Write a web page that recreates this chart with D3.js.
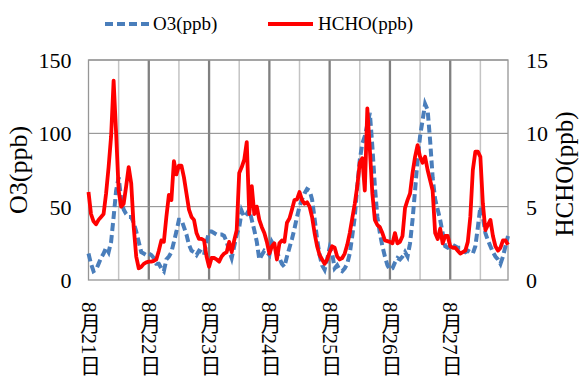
<!DOCTYPE html>
<meta charset="utf-8">
<title>O3 / HCHO</title>
<style>
    body { margin: 0; background: #fff; }
    .grid { stroke: #868686; stroke-width: 1; }
    .minor { stroke: #c4c4c4; stroke-width: 1.5; }
    .major { stroke: #808080; stroke-width: 2.3; }
    .vlabel { writing-mode: vertical-rl; }
</style>
<body></body>
<script src="https://d3js.org/d3.v7.min.js"></script>
<script>
    const width = 579, height = 380;
    const serif = "'Liberation Serif', 'DejaVu Serif', 'Noto Sans CJK JP', serif";

    // hourly values, 8/21 00:00 .. 8/27 23:00
    const o3 = [
        18, 11, 6, 7, 11, 15, 18, 22, 19, 26, 43, 61, 70, 55, 48, 45, 43, 43, 39, 33, 26, 19, 18, 17,
        18, 17, 15, 11, 11, 8, 6, 14, 16, 19, 26, 33, 41, 41, 36, 31, 24, 20, 19, 17, 20, 19, 17, 26,
        33, 33, 32, 31, 31, 31, 30, 26, 20, 15, 23, 31, 36, 47, 43, 45, 48, 41, 34, 26, 14, 17, 20, 19,
        17, 26, 23, 19, 15, 11, 9, 16, 22, 28, 35, 43, 50, 55, 59, 62, 61, 55, 42, 28, 17, 10, 7, 14,
        22, 18, 8, 10, 7, 6, 8, 11, 18, 30, 43, 64, 82, 93, 98, 106, 114, 91, 64, 43, 32, 23, 16, 10,
        7, 8, 12, 15, 14, 16, 19, 16, 25, 41, 61, 82, 98, 109, 120, 116, 95, 70, 55, 48, 41, 32, 23, 22,
        23, 24, 23, 22, 22, 20, 19, 20, 19, 18, 23, 36, 50, 43, 32, 27, 23, 19, 16, 14, 11, 16, 23, 30
    ];
    const hcho = [
        6.0, 4.5, 4.0, 3.8, 4.1, 4.3, 4.5, 5.9, 7.7, 9.8, 13.6, 10.0, 6.1, 5.0, 5.2, 6.4, 7.7, 6.6, 3.6, 1.6, 0.8, 0.9, 1.1, 1.2,
        1.25, 1.25, 1.3, 1.4, 2.0, 2.7, 2.6, 4.3, 5.8, 5.45, 8.1, 7.2, 7.8, 7.8, 7.0, 5.9, 4.8, 4.3, 4.1, 3.2, 2.8, 2.8, 2.7, 1.6,
        0.9, 1.5, 1.5, 1.4, 1.25, 1.6, 1.8, 1.9, 2.6, 1.9, 2.7, 3.4, 7.3, 7.7, 8.2, 9.4, 4.5, 6.4, 4.5, 5.0, 4.1, 3.6, 3.2, 2.6,
        1.8, 2.3, 2.5, 1.4, 2.5, 2.7, 2.6, 3.9, 4.2, 4.8, 5.45, 5.5, 6.0, 5.45, 5.2, 5.3, 5.0, 4.3, 3.2, 2.3, 1.7, 1.4, 1.1, 1.4,
        1.9, 2.3, 2.2, 1.6, 1.4, 1.5, 1.8, 2.4, 3.2, 4.2, 5.2, 6.4, 8.0, 8.3, 6.1, 11.7, 8.9, 5.9, 4.1, 3.75, 3.6, 3.2, 2.7, 2.65,
        2.6, 2.5, 3.2, 2.5, 2.6, 3.0, 4.9, 5.45, 5.9, 7.3, 8.4, 9.2, 8.4, 8.0, 8.4, 7.5, 6.8, 6.1, 3.2, 2.8, 3.5, 2.5, 3.0, 3.0,
        2.3, 2.2, 2.2, 2.0, 1.8, 1.9, 2.0, 2.6, 4.3, 7.5, 8.75, 8.75, 8.4, 5.2, 3.4, 3.75, 4.1, 3.0, 2.3, 2.0, 2.2, 2.7, 2.7, 2.4
    ];
    const dayLabels = ["8月21日", "8月22日", "8月23日", "8月24日", "8月25日", "8月26日", "8月27日"];
    const o3Ticks = [0, 50, 100, 150];
    const hchoTicks = [0, 5, 10, 15];
    const seriesNames = ["O3(ppb)", "HCHO(ppb)"];

    const margin = {top: 60, right: 71, bottom: 100, left: 88.5};
    const x = d3.scaleLinear().domain([0, o3.length - 1]).range([margin.left, width - margin.right]);
    const y = d3.scaleLinear().domain([0, 150]).range([height - margin.bottom, margin.top]);
    const y2 = d3.scaleLinear().domain([0, 15]).range([height - margin.bottom, margin.top]);

    const svg = d3.select("body").append("svg")
        .attr("width", width)
        .attr("height", height)
        .style("font-family", serif);

    // vertical lines: light at noon, dark at midnight
    const noons = d3.range(12, o3.length, 24);
    const days = d3.range(24, o3.length, 24);
    svg.append("g").selectAll("line").data(noons).join("line")
        .attr("class", "minor")
        .attr("x1", d => x(d)).attr("x2", d => x(d))
        .attr("y1", y(150)).attr("y2", y(0));
    svg.append("g").selectAll("line").data(days).join("line")
        .attr("class", "major")
        .attr("x1", d => x(d)).attr("x2", d => x(d))
        .attr("y1", y(150)).attr("y2", y(0));

    svg.append("g").selectAll("line").data(o3Ticks.slice(1)).join("line")
        .attr("class", "grid")
        .attr("x1", x(0)).attr("x2", x(o3.length - 1))
        .attr("y1", d => y(d)).attr("y2", d => y(d));

    svg.append("rect")
        .attr("x", x(0)).attr("y", y(150))
        .attr("width", x(o3.length - 1) - x(0)).attr("height", y(0) - y(150))
        .attr("fill", "none").attr("stroke", "#969696").attr("stroke-width", 1.3);

    const leftAxis = svg.append("g")
        .attr("transform", `translate(${x(0)},0)`)
        .call(d3.axisLeft(y).tickValues(o3Ticks).tickSize(0).tickPadding(17));
    leftAxis.select(".domain").remove();
    leftAxis.attr("font-family", null).attr("font-size", 22);
    leftAxis.selectAll("text").attr("dy", "0.34em").attr("fill", "#000");

    const rightAxis = svg.append("g")
        .attr("transform", `translate(${x(o3.length - 1)},0)`)
        .call(d3.axisRight(y2).tickValues(hchoTicks).tickSize(0).tickPadding(18));
    rightAxis.select(".domain").remove();
    rightAxis.attr("font-family", null).attr("font-size", 22);
    rightAxis.selectAll("text").attr("dy", "0.34em").attr("fill", "#000");

    svg.append("g").selectAll("text").data(dayLabels).join("text")
        .attr("class", "vlabel")
        .attr("x", (d, i) => x(i * 24))
        .attr("y", 302)
        .attr("font-size", 21)
        .text(d => d);

    svg.append("text")
        .attr("transform", `translate(27,170) rotate(-90)`)
        .attr("text-anchor", "middle")
        .attr("font-size", 26)
        .text(seriesNames[0]);
    svg.append("text")
        .attr("transform", `translate(573,174) rotate(-90)`)
        .attr("text-anchor", "middle")
        .attr("font-size", 25)
        .text(seriesNames[1]);

    const o3Line = d3.line().x((d, i) => x(i)).y(d => y(d));
    const hchoLine = d3.line().x((d, i) => x(i)).y(d => y2(d));

    svg.append("path")
        .datum(o3)
        .attr("fill", "none")
        .attr("stroke", "#4a7ebb")
        .attr("stroke-width", 4)
        .attr("stroke-dasharray", "8,4")
        .attr("d", o3Line);

    svg.append("path")
        .datum(hcho)
        .attr("fill", "none")
        .attr("stroke", "#ff0000")
        .attr("stroke-width", 3.8)
        .attr("stroke-linejoin", "round")
        .attr("d", hchoLine);

    // legend
    const legend = svg.append("g");
    legend.append("line")
        .attr("x1", 105).attr("x2", 149).attr("y1", 24).attr("y2", 24)
        .attr("stroke", "#4a7ebb").attr("stroke-width", 4).attr("stroke-dasharray", "8,4");
    legend.append("text")
        .attr("x", 153).attr("y", 24).attr("dy", "0.34em")
        .attr("font-size", 19).text(seriesNames[0]);
    legend.append("line")
        .attr("x1", 268).attr("x2", 313).attr("y1", 24).attr("y2", 24)
        .attr("stroke", "#ff0000").attr("stroke-width", 4);
    legend.append("text")
        .attr("x", 318).attr("y", 24).attr("dy", "0.34em")
        .attr("font-size", 19).text(seriesNames[1]);
</script>
